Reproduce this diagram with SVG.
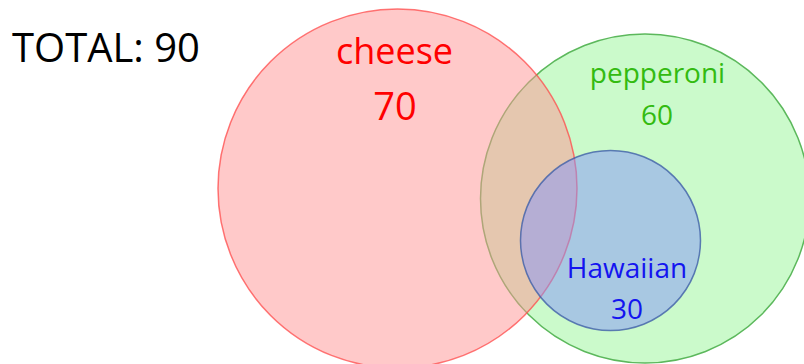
<svg xmlns="http://www.w3.org/2000/svg" width="804" height="364" viewBox="0 0 804 364">
<style>
text{font-family:"Open Sans","Noto Sans","Liberation Sans",sans-serif;text-anchor:middle}
.pep{fill:#cbfacb;stroke:#5cb85c;stroke-width:1.5}
.che{fill:rgb(255,147,147);fill-opacity:.5;stroke:#ff4a4a;stroke-opacity:.75;stroke-width:1.5}
.haw{fill:rgb(133,150,249);fill-opacity:.5;stroke:#3f5fa8;stroke-opacity:.8;stroke-width:1.5}
</style>
<rect width="804" height="364" fill="#fff"/>
<g id="total"><text x="12" y="62" font-size="40" fill="#000" style="text-anchor:start">TOTAL: 90</text></g>
<g id="pepperoni">
<circle class="pep" cx="645" cy="198.5" r="164.5"/>
</g>
<g id="cheese">
<circle class="che" cx="397.5" cy="188.5" r="179.5"/>
</g>
<g id="hawaiian">
<circle class="haw" cx="610.5" cy="240.5" r="90"/>
</g>
<g id="labels">
<text x="394.5" y="64" font-size="36" fill="#ff0000">cheese</text>
<text x="395" y="120" font-size="38" fill="#ff0000">70</text>
<text x="657.5" y="83" font-size="28" fill="#33bb11">pepperoni</text>
<text x="657" y="125" font-size="28" fill="#33bb11">60</text>
<text x="627" y="278" font-size="28" fill="#1414f0">Hawaiian</text>
<text x="627" y="319" font-size="28" fill="#1414f0">30</text>
</g>
</svg>
